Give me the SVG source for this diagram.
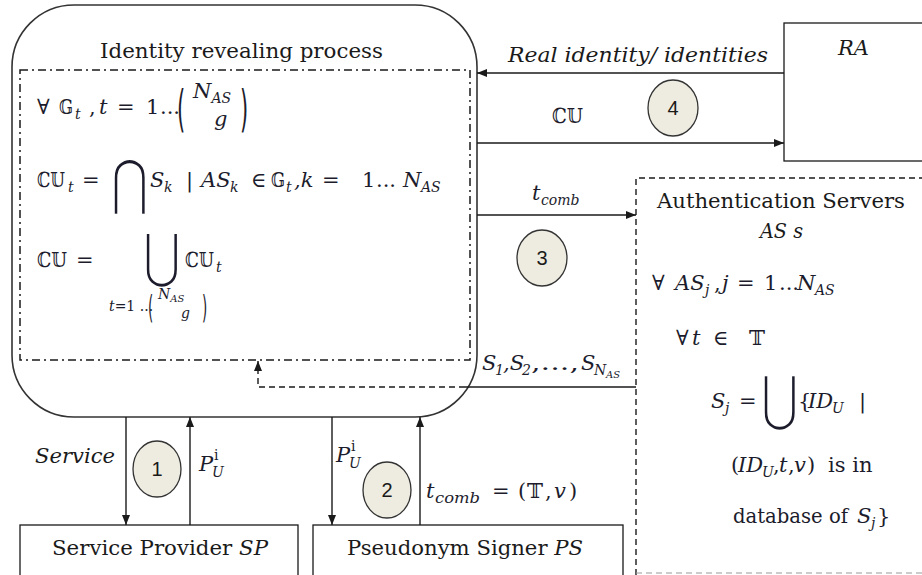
<svg xmlns="http://www.w3.org/2000/svg" width="922" height="575" viewBox="0 0 922 575">
  <style>
    .t { font-family: "DejaVu Serif", "DejaVu Sans", serif; font-size: 21px; fill: #1a1a1a; }
    .m { font-family: "DejaVu Serif", "DejaVu Sans", serif; font-size: 21px; fill: #1c1c2c; }
    .i { font-style: italic; }
    .r { font-style: normal; }
    .s { font-size: 14px; }
    .ss { font-size: 10px; }
    .op { font-family: "DejaVu Sans", sans-serif; font-size: 46px; fill: #1c1c2c; stroke: #ffffff; stroke-width: 1.3px; }
    .par { font-family: "DejaVu Sans", sans-serif; fill: #1c1c2c; }
    .num { font-family: "Liberation Sans", Arial, sans-serif; font-size: 20px; fill: #1a1a1a; text-anchor: middle; }
    .box { fill: #ffffff; stroke: #1a1a1a; stroke-width: 1.3; }
    .step { fill: #eeece1; stroke: #333333; stroke-width: 1.3; }
    .ln { fill: none; stroke: #1a1a1a; stroke-width: 1.4; }
    .dash { fill: none; stroke: #1a1a1a; stroke-width: 1.4; stroke-dasharray: 6 4; }
  </style>
  <defs>
    <marker id="arrow" viewBox="0 0 10 8" markerWidth="10" markerHeight="8" refX="10" refY="4" orient="auto" markerUnits="userSpaceOnUse">
      <path d="M0,0 L10,4 L0,8 z" fill="#1a1a1a"/>
    </marker>
  </defs>

  <!-- Identity revealing process -->
  <g id="irp">
    <rect x="12" y="5" width="465" height="412" rx="62" ry="62" fill="#ffffff" stroke="#333333" stroke-width="1.6"/>
    <rect x="20" y="70" width="450" height="290" fill="none" stroke="#1a1a1a" stroke-width="1.5" stroke-dasharray="8 4 2 4"/>
    <text class="t" x="100" y="58" textLength="283" lengthAdjust="spacingAndGlyphs">Identity revealing process</text>

    <!-- for all groups G_t -->
    <text class="m" x="37" y="114">∀</text>
    <text class="m" x="59" y="114" textLength="14" lengthAdjust="spacingAndGlyphs">𝔾</text>
    <text class="m" y="114"><tspan class="s i" x="75" y="119">t</tspan><tspan x="89" y="114">,</tspan><tspan class="i" x="99">t</tspan><tspan x="117">=</tspan><tspan x="146">1</tspan><tspan x="160">...</tspan></text>
    <text class="par" font-size="50" transform="translate(177,126) scale(0.42,1)">(</text>
    <text class="m i" x="193" y="98">N<tspan class="s" y="103">AS</tspan></text>
    <text class="m i" x="214" y="126">g</text>
    <text class="par" font-size="50" transform="translate(240,126) scale(0.42,1)">)</text>

    <!-- candidate users per group -->
    <text class="m" x="37" y="187" textLength="28" lengthAdjust="spacingAndGlyphs">ℂ𝕌</text>
    <text class="m" y="187"><tspan class="s i" x="68" y="192">t</tspan><tspan x="82" y="187">=</tspan></text>
    <text class="op" transform="translate(111,203) scale(1,1.32)">⋂</text>
    <text class="m i" y="187"><tspan x="150">S</tspan><tspan class="s" x="164" y="192">k</tspan><tspan class="r" x="186" y="187">|</tspan><tspan x="201">AS</tspan><tspan class="s" x="230" y="192">k</tspan><tspan class="r" x="251" y="187">∈</tspan></text>
    <text class="m" x="271" y="187" textLength="14" lengthAdjust="spacingAndGlyphs">𝔾</text>
    <text class="m i" y="187"><tspan class="s" x="286" y="192">t</tspan><tspan x="294" y="187">,k</tspan><tspan class="r" x="322">=</tspan><tspan class="r" x="362">1</tspan><tspan class="r" x="376">...</tspan><tspan x="403">N</tspan><tspan class="s" x="421" y="192">AS</tspan></text>

    <!-- union of candidate users -->
    <text class="m" x="37" y="267" textLength="30" lengthAdjust="spacingAndGlyphs">ℂ𝕌</text>
    <text class="m" x="76" y="267">=</text>
    <text class="op" transform="translate(143,276) scale(1,1.3)">⋃</text>
    <text class="m" x="185" y="267" textLength="29" lengthAdjust="spacingAndGlyphs">ℂ𝕌</text>
    <text class="m s i" x="216" y="272">t</text>
    <text class="m s" x="109" y="311"><tspan class="i">t</tspan>=1 ...</text>
    <text class="par" font-size="32" transform="translate(148,318) scale(0.42,1)">(</text>
    <text class="m s i" x="158" y="299">N<tspan class="ss" y="302">AS</tspan></text>
    <text class="m s i" x="181" y="318">g</text>
    <text class="par" font-size="32" transform="translate(202,318) scale(0.42,1)">)</text>
  </g>

  <!-- Revocation authority -->
  <g id="ra">
    <rect class="box" x="784" y="23" width="150" height="138"/>
    <text class="t i" x="838" y="55">RA</text>
  </g>

  <!-- Authentication servers -->
  <g id="as">
    <path d="M636,575 V178 H922" fill="none" stroke="#1a1a1a" stroke-width="1.4" stroke-dasharray="6 4"/>
    <line x1="636" y1="573" x2="922" y2="573" stroke="#9a9a9a" stroke-width="1.2" stroke-dasharray="6 4"/>
    <text class="t" x="657" y="208" textLength="248" lengthAdjust="spacingAndGlyphs">Authentication Servers</text>
    <text class="t i" x="760" y="238" textLength="43" lengthAdjust="spacingAndGlyphs">AS s</text>
    <text class="m" y="290"><tspan x="652">∀</tspan><tspan class="i" x="675">AS</tspan><tspan class="s i" x="705" y="295">j</tspan><tspan x="714" y="290">,</tspan><tspan class="i" x="722">j</tspan><tspan x="737">=</tspan><tspan x="764">1</tspan><tspan x="779">...</tspan><tspan class="i" x="797">N</tspan><tspan class="s i" x="815" y="295">AS</tspan></text>
    <text class="m" y="345"><tspan x="676">∀</tspan><tspan class="i" x="692">t</tspan><tspan x="713">∈</tspan></text>
    <text class="m" x="749" y="345" textLength="16" lengthAdjust="spacingAndGlyphs">𝕋</text>
    <text class="m i" y="408"><tspan x="711">S</tspan><tspan class="s" x="725" y="413">j</tspan><tspan class="r" x="739" y="408">=</tspan></text>
    <text class="op" transform="translate(761,419) scale(1,1.32)">⋃</text>
    <text class="m" y="408"><tspan x="798">{</tspan><tspan class="i" x="808">ID</tspan><tspan class="s i" x="832" y="413">U</tspan><tspan x="859" y="408">|</tspan></text>
    <text class="m" y="472"><tspan x="731">(</tspan><tspan class="i" x="738">ID</tspan><tspan class="s i" x="762" y="477">U</tspan><tspan x="773" y="472">,</tspan><tspan class="i" x="779">t</tspan><tspan x="788">,</tspan><tspan class="i" x="794">v</tspan><tspan x="807">)</tspan><tspan x="828">is in</tspan></text>
    <text class="m" y="523"><tspan x="733" textLength="115" lengthAdjust="spacingAndGlyphs">database of</tspan><tspan class="i" x="857">S</tspan><tspan class="s i" x="871" y="528">j</tspan><tspan x="877" y="523">}</tspan></text>
  </g>

  <!-- Service provider -->
  <g id="sp">
    <rect class="box" x="20" y="525" width="278" height="60"/>
    <text class="t" x="52" y="555" textLength="216" lengthAdjust="spacingAndGlyphs">Service Provider <tspan class="i">SP</tspan></text>
  </g>

  <!-- Pseudonym signer -->
  <g id="ps">
    <rect class="box" x="313" y="525" width="310" height="60"/>
    <text class="t" x="347" y="555" textLength="236" lengthAdjust="spacingAndGlyphs">Pseudonym Signer <tspan class="i">PS</tspan></text>
  </g>

  <!-- step markers -->
  <g id="step1"><ellipse class="step" cx="157" cy="469" rx="24" ry="28"/><text class="num" x="157" y="476">1</text></g>
  <g id="step2"><ellipse class="step" cx="387" cy="490" rx="24" ry="28"/><text class="num" x="387" y="497">2</text></g>
  <g id="step3"><ellipse class="step" cx="542" cy="258" rx="25" ry="28"/><text class="num" x="542" y="265">3</text></g>
  <g id="step4"><ellipse class="step" cx="673" cy="108" rx="25" ry="28"/><text class="num" x="673" y="115">4</text></g>

  <!-- connectors -->
  <g id="connectors">
    <line class="ln" x1="784" y1="73" x2="477" y2="73" marker-end="url(#arrow)"/>
    <text class="t i" x="508" y="62" textLength="260" lengthAdjust="spacingAndGlyphs">Real identity/ identities</text>

    <line class="ln" x1="477" y1="143" x2="784" y2="143" marker-end="url(#arrow)"/>
    <text class="m" x="552" y="123" textLength="31" lengthAdjust="spacingAndGlyphs">ℂ𝕌</text>

    <line class="ln" x1="477" y1="215" x2="636" y2="215" marker-end="url(#arrow)"/>
    <text class="m i" x="532" y="200">t<tspan class="s" x="541" y="205">comb</tspan></text>

    <line class="ln" x1="465" y1="387" x2="636" y2="387"/>
    <path class="dash" d="M465,387 H258 V361" marker-end="url(#arrow)"/>
    <text class="m i" y="370"><tspan x="482">S</tspan><tspan class="s" x="495" y="375">1</tspan><tspan x="503" y="370">,S</tspan><tspan class="s" x="522" y="375">2</tspan><tspan class="r" x="531" y="370" textLength="48" lengthAdjust="spacingAndGlyphs">,...,</tspan><tspan x="581">S</tspan><tspan class="s" x="594" y="375">N</tspan><tspan class="ss" x="606" y="378">AS</tspan></text>

    <line class="ln" x1="126" y1="417" x2="126" y2="525" marker-end="url(#arrow)"/>
    <text class="t i" x="35" y="463" textLength="80" lengthAdjust="spacingAndGlyphs">Service</text>
    <line class="ln" x1="190" y1="525" x2="190" y2="417" marker-end="url(#arrow)"/>
    <text class="m i" x="199" y="471">P<tspan class="s" x="212" y="477">U</tspan><tspan class="s r" x="214" y="460">i</tspan></text>

    <line class="ln" x1="332" y1="417" x2="332" y2="525" marker-end="url(#arrow)"/>
    <text class="m i" x="336" y="462">P<tspan class="s" x="349" y="468">U</tspan><tspan class="s r" x="351" y="451">i</tspan></text>
    <line class="ln" x1="420" y1="525" x2="420" y2="417" marker-end="url(#arrow)"/>
    <text class="m i" y="498"><tspan x="426">t</tspan><tspan class="s" x="435" y="503" textLength="45" lengthAdjust="spacingAndGlyphs">comb</tspan><tspan class="r" x="492" y="498">=</tspan><tspan class="r" x="518">(</tspan></text>
    <text class="m" x="527" y="498" textLength="16" lengthAdjust="spacingAndGlyphs">𝕋</text>
    <text class="m" y="498"><tspan x="545">,</tspan><tspan class="i" x="554">v</tspan><tspan x="569">)</tspan></text>
  </g>
</svg>
